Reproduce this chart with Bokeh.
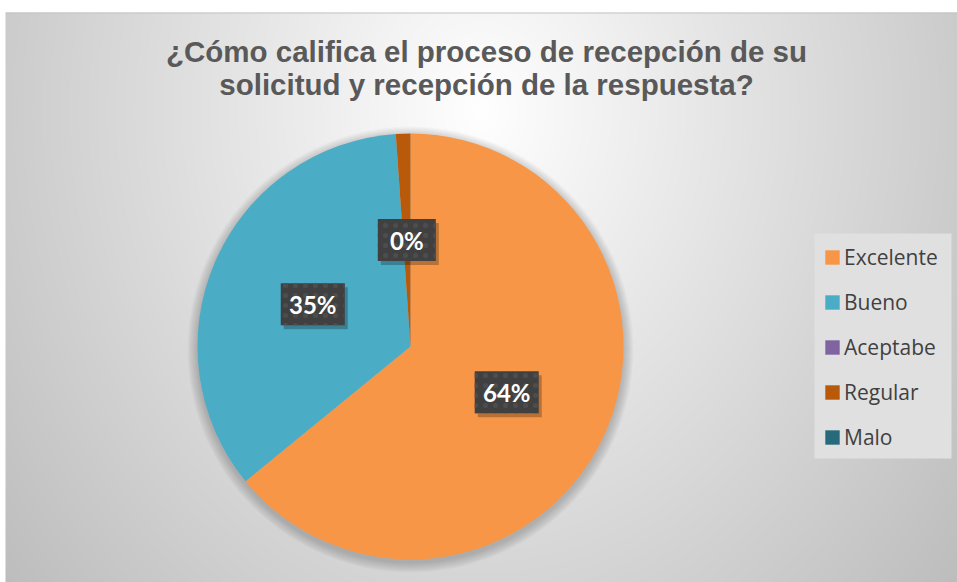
import numpy as np
from bokeh.plotting import figure
from bokeh.models import ColumnDataSource, CDSView, BooleanFilter
from bokeh.core.properties import value
from bokeh.embed import file_html
from bokeh.resources import INLINE

# ---- data ----
categories = ["Excelente", "Bueno", "Aceptabe", "Regular", "Malo"]
values = [64.1, 34.8, 0.0, 1.1, 0.0]
colors = ["#F79646", "#4BACC6", "#8064A2", "#B85A0A", "#276A7C"]
pct_labels = ["64%", "35%", "", "0%", ""]
title_lines = ["¿Cómo califica el proceso de recepción de su",
               "solicitud y recepción de la respuesta?"]

W, H = 957, 582
p = figure(width=W, height=H, x_range=(0, W), y_range=(0, H),
           output_backend="svg", toolbar_location=None, min_border=0)
p.axis.visible = False
p.grid.visible = False
p.outline_line_color = None
p.background_fill_color = "white"
p.border_fill_color = "white"

# ---- background radial gradient (screen x 5..957, y 12..582) ----
bx0, bw, bh = 5, W - 5, H - 12
ys, xs = np.mgrid[0:bh, 0:bw]
sx = xs + float(bx0)
sy = ys + 12.0
d = np.sqrt(((sx - 480) / 580.0) ** 2 + ((sy - 110) / 700.0) ** 2)
g = np.clip(255 - 62 * d, 185, 255).astype(np.uint32)
img = (np.uint32(255) << 24) | (g << 16) | (g << 8) | g
img = np.ascontiguousarray(np.flipud(img)).astype(np.uint32)
p.image_rgba(image=[img], x=bx0, y=0, dw=bw, dh=bh)
p.line(x=[bx0, W], y=[bh - 0.5, bh - 0.5], line_color="#c4c4c4", line_width=1)

# ---- pie ----
cx, cy, R = 410, 236, 213
for k in range(10, 0, -1):
    p.scatter(x=[cx], y=[cy - 3], size=2 * (R + k), marker="circle",
              fill_color="black", fill_alpha=0.018, line_color=None)

vals = np.array(values, dtype=float)
frac = vals / vals.sum()
cum = np.concatenate([[0.0], np.cumsum(frac)])
start = np.pi / 2 - cum[:-1] * 2 * np.pi
end = np.pi / 2 - cum[1:] * 2 * np.pi
src = ColumnDataSource(dict(category=categories, value=values, color=colors,
                            start=start, end=end))
view = CDSView(filter=BooleanFilter([bool(v > 0) for v in values]))
p.wedge(x=cx, y=cy, radius=R, start_angle="start", end_angle="end",
        direction="clock", fill_color="color", line_color=None,
        source=src, view=view)
# legend-only renderer (zero radius, all categories)
p.wedge(x=cx, y=cy, radius=0, start_angle="start", end_angle="end",
        direction="clock", fill_color="color", line_color=None,
        source=src, legend_field="category")

# ---- data labels ----
mid = (cum[:-1] + cum[1:]) / 2
ang = np.pi / 2 - mid * 2 * np.pi
idx = [i for i, t in enumerate(pct_labels) if t]
lx = np.array([cx + 0.5 * R * np.cos(ang[i]) for i in idx])
ly = np.array([cy + 0.5 * R * np.sin(ang[i]) for i in idx])
lt = [pct_labels[i] for i in idx]
lw = [46 + 6 * len(t) for t in lt]
lab = ColumnDataSource(dict(x=lx, y=ly, t=lt, w=lw,
                            xs=lx + 3, ys=ly - 4))
p.rect(x="xs", y="ys", width="w", height=42, width_units="screen",
       height_units="screen", source=lab, fill_color="black",
       fill_alpha=0.25, line_color=None)
p.rect(x="x", y="y", width="w", height=42, width_units="screen",
       height_units="screen", source=lab, fill_color="#404040",
       line_color=None, hatch_pattern="dot", hatch_color="#4d4d4d",
       hatch_scale=10, hatch_weight=1)
p.text(x="x", y="y", text="t", source=lab, text_font=value("Lato"),
       text_font_style="bold", text_font_size="24px", text_color="white",
       text_align="center", text_baseline="middle")

# ---- title ----
p.text(x=[486, 486], y=[531, 498], text=title_lines,
       text_font=value("Liberation Sans"), text_font_style="bold",
       text_font_size="29.5px", text_color="#595959",
       text_align="center", text_baseline="alphabetic")

# ---- legend box + legend ----
p.quad(left=[814], right=[951], bottom=[124], top=[349],
       fill_color="#e0e0e0", line_color=None)
lg = p.legend[0]
lg.location = (823, 131)
lg.orientation = "vertical"
lg.background_fill_alpha = 0
lg.border_line_color = None
lg.padding = 11
lg.margin = 0
lg.spacing = 17
lg.glyph_width = 18
lg.glyph_height = 18
lg.label_height = 20
lg.label_standoff = 3
lg.label_text_font = "Open Sans"
lg.label_text_font_size = "21px"
lg.label_text_color = "#404040"

open("out.html", "w").write(file_html(p, INLINE))
